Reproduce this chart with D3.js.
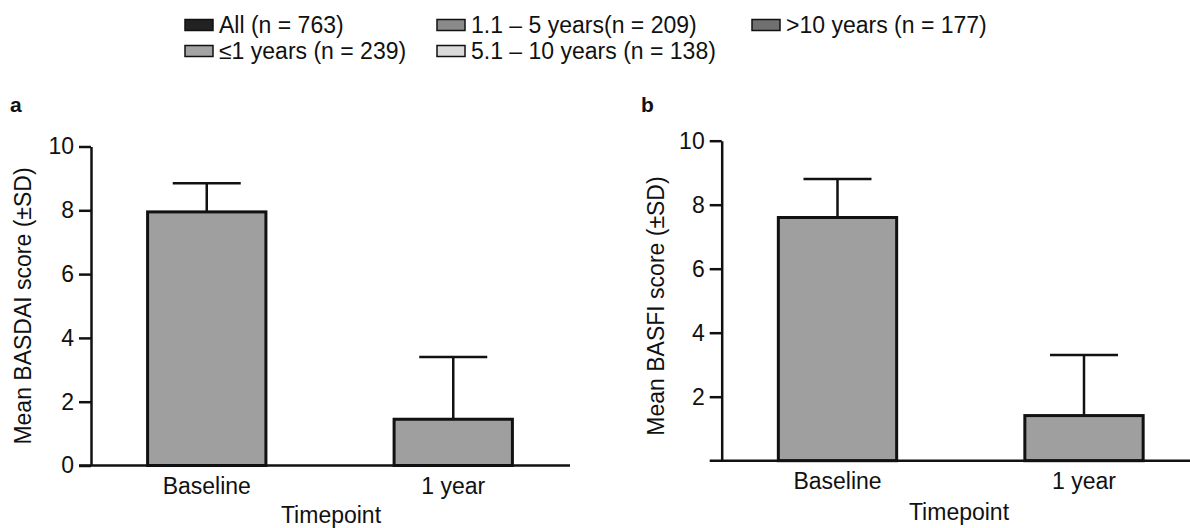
<!DOCTYPE html>
<html>
<head>
<meta charset="utf-8">
<script src="https://cdn.jsdelivr.net/npm/d3@7"></script>
<style>
  body { margin: 0; background: #fff; }
  svg { display: block; font-family: "Liberation Sans", Arial, sans-serif; }
  .tick text { font-size: 23px; fill: #111; }
  .lbl { font-size: 23px; fill: #111; }
</style>
</head>
<body>
<svg id="chart" width="1190" height="528"></svg>
<script>
// values
var categories = ["Baseline", "1 year"];
var basdaiMean = [7.95, 1.45];
var basdaiSD = [0.9, 1.95];
var basfiMean = [7.6, 1.41];
var basfiSD = [1.2, 1.89];
var ticksA = [0, 2, 4, 6, 8, 10];
var ticksB = [2, 4, 6, 8, 10];
var legendLabels = ["All (n = 763)", "\u22641 years (n = 239)", "1.1 \u2013 5 years(n = 209)",
                    "5.1 \u2013 10 years (n = 138)", ">10 years (n = 177)"];

var legendFills = ["#222", "#a3a3a3", "#8a8a8a", "#dadada", "#707070"];
var barFill = "#9f9f9f";

var svg = d3.select("#chart");

// legend, filled column by column
var legendPos = [[185, 25], [185, 51], [437, 25], [437, 51], [752, 25]];
var leg = svg.append("g")
    .selectAll("g.item")
    .data(legendLabels)
    .join("g")
    .classed("item", true)
    .attr("transform", function(d, i) { return "translate(" + legendPos[i][0] + "," + legendPos[i][1] + ")"; });

leg.append("rect")
    .attr("x", 0).attr("y", -5.5)
    .attr("width", 28).attr("height", 11)
    .style("fill", function(d, i) { return legendFills[i]; })
    .style("stroke", "#111")
    .style("stroke-width", "1.5px");

leg.append("text")
    .classed("lbl", true)
    .attr("x", 34)
    .attr("dy", "0.36em")
    .text(function(d) { return d; });

function drawPanel(p) {
    var g = svg.append("g");

    var y = d3.scaleLinear().domain([0, 10]).range([p.y0, p.y10]);
    var x = d3.scaleBand().domain(categories).range(p.band)
        .paddingInner(0.52).paddingOuter(0.26);

    var rows = categories.map(function(c, i) { return {cat: c, mean: p.mean[i], sd: p.sd[i]}; });

    // error bars (upper half only)
    g.selectAll("line.stem")
        .data(rows)
        .join("line")
        .classed("stem", true)
        .style("stroke", "#111")
        .style("stroke-width", "2.5px")
        .attr("x1", function(d) { return x(d.cat) + x.bandwidth() / 2; })
        .attr("x2", function(d) { return x(d.cat) + x.bandwidth() / 2; })
        .attr("y1", function(d) { return y(d.mean); })
        .attr("y2", function(d) { return y(d.mean + d.sd); });

    g.selectAll("line.cap")
        .data(rows)
        .join("line")
        .classed("cap", true)
        .style("stroke", "#111")
        .style("stroke-width", "2.5px")
        .attr("x1", function(d) { return x(d.cat) + x.bandwidth() / 2 - 34; })
        .attr("x2", function(d) { return x(d.cat) + x.bandwidth() / 2 + 34; })
        .attr("y1", function(d) { return y(d.mean + d.sd); })
        .attr("y2", function(d) { return y(d.mean + d.sd); });

    g.selectAll("rect.bar")
        .data(rows)
        .join("rect")
        .classed("bar", true)
        .style("fill", barFill)
        .style("stroke", "#111")
        .style("stroke-width", "3px")
        .attr("x", function(d) { return x(d.cat); })
        .attr("width", x.bandwidth())
        .attr("y", function(d) { return y(d.mean); })
        .attr("height", function(d) { return y(0) - y(d.mean); });

    // y axis
    var ya = g.append("g")
        .attr("transform", "translate(" + p.axisX + ",0)")
        .call(d3.axisLeft(y).tickValues(p.ticks).tickSize(12).tickSizeOuter(0).tickPadding(5));
    ya.selectAll("path, line").style("stroke", "#111").style("stroke-width", "2.5px");

    // x axis baseline
    g.append("line")
        .style("stroke", "#111")
        .style("stroke-width", "2.5px")
        .attr("x1", p.axisX - 12).attr("x2", p.xEnd)
        .attr("y1", y(0)).attr("y2", y(0));

    var xa = g.append("g")
        .attr("transform", "translate(0," + y(0) + ")")
        .call(d3.axisBottom(x).tickSize(0).tickPadding(12));
    xa.select(".domain").remove();

    g.append("text")
        .classed("lbl", true)
        .attr("text-anchor", "middle")
        .attr("x", p.titleX).attr("y", p.titleY)
        .text("Timepoint");

    g.append("text")
        .classed("lbl", true)
        .attr("text-anchor", "middle")
        .attr("transform", "translate(" + p.ylabX + ",306) rotate(-90)")
        .attr("dy", "0.35em")
        .text(p.ylab);

    g.append("text")
        .attr("x", p.letterX).attr("y", 112)
        .style("font-size", "21px")
        .style("font-weight", "bold")
        .style("fill", "#111")
        .text(p.letter);
}

drawPanel({
    letter: "a", letterX: 10,
    mean: basdaiMean, sd: basdaiSD, ticks: ticksA,
    y0: 465.5, y10: 146.5, band: [83.5, 576.5],
    axisX: 91, xEnd: 570,
    titleX: 331, titleY: 523,
    ylabX: 23, ylab: "Mean BASDAI score (\u00b1SD)"
});

drawPanel({
    letter: "b", letterX: 641,
    mean: basfiMean, sd: basfiSD, ticks: ticksB,
    y0: 460.7, y10: 140.7, band: [714.25, 1207.25],
    axisX: 721.7, xEnd: 1190,
    titleX: 959, titleY: 520,
    ylabX: 656, ylab: "Mean BASFI score (\u00b1SD)"
});
</script>
</body>
</html>
